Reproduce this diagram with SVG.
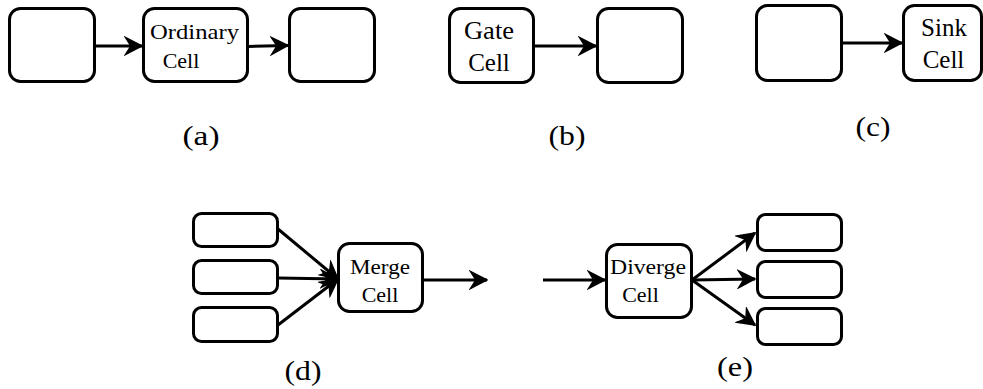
<svg xmlns="http://www.w3.org/2000/svg" width="983" height="389" viewBox="0 0 983 389">
  <style>
    .cell { fill: #ffffff; stroke: #000000; stroke-width: 3; }
    .link { fill: none; stroke: #000000; stroke-width: 3; }
    .txt { font-family: "Liberation Serif", "Times New Roman", serif; fill: #000000; text-anchor: middle; }
    .t22 { font-size: 22px; }
    .t25 { font-size: 25px; }
    .cap { font-size: 27px; }
  </style>
  <defs>
    <marker id="arrow" viewBox="-18 -10 19 20" refX="0" refY="0" markerWidth="19" markerHeight="20" markerUnits="userSpaceOnUse" orient="auto">
      <path d="M0,0 L-16.5,-8.5 L-11,0 L-16.5,8.5 Z" fill="#000000" stroke="#000000" stroke-width="1.5" stroke-linejoin="miter"/>
    </marker>
  </defs>

  <!-- (a) ordinary cell between two neighbours -->
  <g id="a-upstream"><rect class="cell" x="9.5" y="8.5" width="85" height="73" rx="11"/></g>
  <g id="a-ordinary">
    <rect class="cell" x="143.5" y="8.5" width="104" height="73" rx="11"/>
    <text class="txt t22" x="194.5" y="39" textLength="89" lengthAdjust="spacingAndGlyphs">Ordinary</text>
    <text class="txt t22" x="181" y="68">Cell</text>
  </g>
  <g id="a-downstream"><rect class="cell" x="289.5" y="8.5" width="85" height="73" rx="11"/></g>

  <!-- (b) gate cell feeding a neighbour -->
  <g id="b-gate">
    <rect class="cell" x="449.5" y="8.5" width="84" height="74" rx="11"/>
    <text class="txt t25" x="489" y="39" textLength="50" lengthAdjust="spacingAndGlyphs">Gate</text>
    <text class="txt t25" x="489" y="71">Cell</text>
  </g>
  <g id="b-downstream"><rect class="cell" x="597.5" y="8.5" width="85" height="74" rx="11"/></g>

  <!-- (c) neighbour draining into a sink cell -->
  <g id="c-upstream"><rect class="cell" x="756.5" y="5.5" width="85" height="75" rx="11"/></g>
  <g id="c-sink">
    <rect class="cell" x="903.5" y="5.5" width="78" height="75" rx="11"/>
    <text class="txt t25" x="944" y="36">Sink</text>
    <text class="txt t25" x="943.5" y="68">Cell</text>
  </g>

  <!-- (d) three inflows merging -->
  <g id="d-in1"><rect class="cell" x="193.5" y="213.5" width="84" height="33" rx="8"/></g>
  <g id="d-in2"><rect class="cell" x="193.5" y="260.5" width="84" height="33" rx="8"/></g>
  <g id="d-in3"><rect class="cell" x="193.5" y="307.5" width="84" height="34" rx="8"/></g>
  <g id="d-merge">
    <rect class="cell" x="338.5" y="243.5" width="84" height="68" rx="11"/>
    <text class="txt t22" x="380" y="274" textLength="60" lengthAdjust="spacingAndGlyphs">Merge</text>
    <text class="txt t22" x="380" y="302">Cell</text>
  </g>

  <!-- (e) one inflow diverging into three -->
  <g id="e-diverge">
    <rect class="cell" x="606.5" y="244.5" width="85" height="73" rx="11"/>
    <text class="txt t22" x="648" y="274" textLength="76" lengthAdjust="spacingAndGlyphs">Diverge</text>
    <text class="txt t22" x="640.5" y="302">Cell</text>
  </g>
  <g id="e-out1"><rect class="cell" x="757.5" y="214.5" width="84" height="36" rx="8"/></g>
  <g id="e-out2"><rect class="cell" x="757.5" y="261.5" width="84" height="36" rx="8"/></g>
  <g id="e-out3"><rect class="cell" x="757.5" y="308.5" width="84" height="36" rx="8"/></g>

  <!-- connectors -->
  <g id="connectors">
    <line class="link" x1="95" y1="46" x2="142" y2="46" marker-end="url(#arrow)"/>
    <line class="link" x1="248" y1="46.5" x2="288" y2="45.5" marker-end="url(#arrow)"/>
    <line class="link" x1="534" y1="46" x2="596" y2="46" marker-end="url(#arrow)"/>
    <line class="link" x1="842" y1="43" x2="902" y2="43" marker-end="url(#arrow)"/>
    <line class="link" x1="278" y1="229" x2="338" y2="279" marker-end="url(#arrow)"/>
    <line class="link" x1="278" y1="278" x2="338" y2="279" marker-end="url(#arrow)"/>
    <line class="link" x1="278" y1="325" x2="338" y2="279" marker-end="url(#arrow)"/>
    <line class="link" x1="423" y1="280" x2="487" y2="280" marker-end="url(#arrow)"/>
    <line class="link" x1="543" y1="280" x2="605" y2="280" marker-end="url(#arrow)"/>
    <line class="link" x1="692" y1="280" x2="755" y2="233" marker-end="url(#arrow)"/>
    <line class="link" x1="692" y1="280" x2="755" y2="279" marker-end="url(#arrow)"/>
    <line class="link" x1="692" y1="280" x2="755" y2="325" marker-end="url(#arrow)"/>
  </g>

  <!-- panel captions -->
  <g id="captions">
    <text class="txt cap" x="201" y="145" textLength="37" lengthAdjust="spacingAndGlyphs">(a)</text>
    <text class="txt cap" x="567" y="145" textLength="37" lengthAdjust="spacingAndGlyphs">(b)</text>
    <text class="txt cap" x="873" y="136" textLength="35" lengthAdjust="spacingAndGlyphs">(c)</text>
    <text class="txt cap" x="303" y="380" textLength="37" lengthAdjust="spacingAndGlyphs">(d)</text>
    <text class="txt cap" x="735" y="376" textLength="36" lengthAdjust="spacingAndGlyphs">(e)</text>
  </g>
</svg>
